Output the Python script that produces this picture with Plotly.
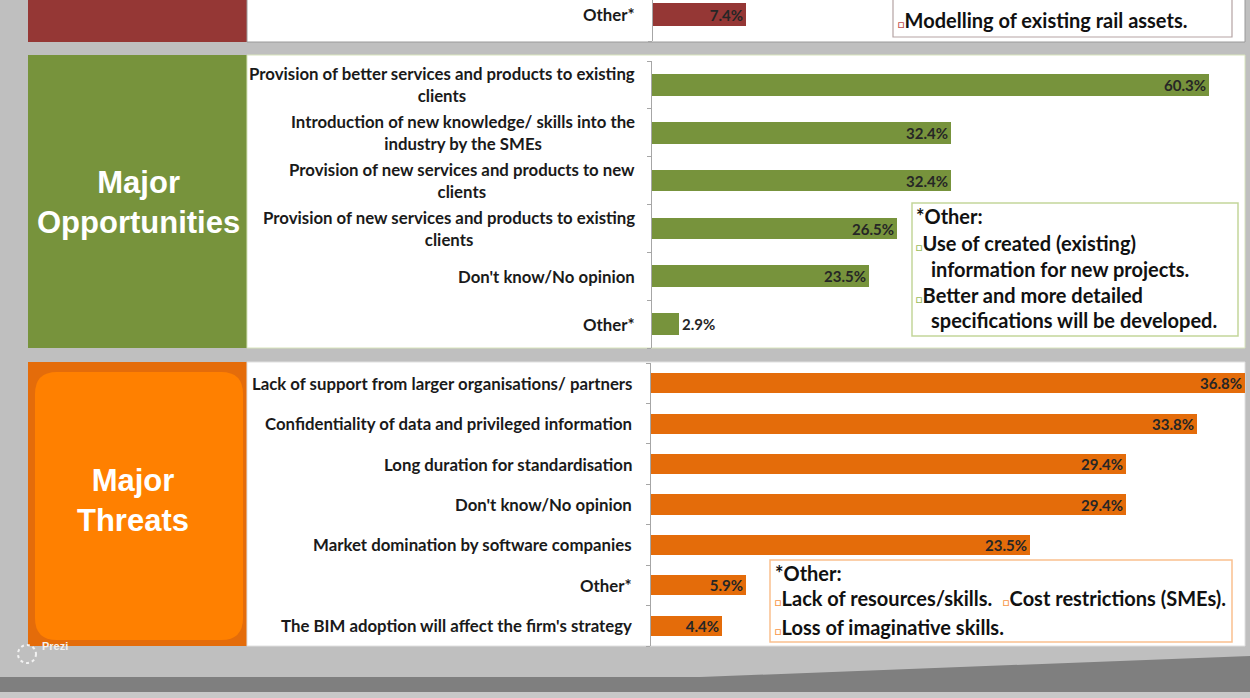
import plotly.graph_objects as go

W, H = 1250, 698

# ---- data -------------------------------------------------------------------
prev_cats = ["Other*"]
prev_vals = [7.4]

opp_cats = [
    "Provision of better services and products to existing<br>clients",
    "Introduction of new knowledge/ skills into the<br>industry by the SMEs",
    "Provision of new services and products to new<br>clients",
    "Provision of new services and products to existing<br>clients",
    "Don't know/No opinion",
    "Other*",
]
opp_vals = [60.3, 32.4, 32.4, 26.5, 23.5, 2.9]

thr_cats = [
    "Lack of support from larger organisations/ partners",
    "Confidentiality of data and privileged information",
    "Long duration for standardisation",
    "Don't know/No opinion",
    "Market domination by software companies",
    "Other*",
    "The BIM adoption will affect the firm's strategy",
]
thr_vals = [36.8, 33.8, 29.4, 29.4, 23.5, 5.9, 4.4]

opp_notes = ["*Other:", "Use of created (existing)", "information for new projects.",
             "Better and more detailed", "specifications will be developed."]
thr_notes = ["*Other:", "Lack of resources/skills.", "Cost restrictions (SMEs).",
             "Loss of imaginative skills."]
prev_note = "Modelling of existing rail assets."

# ---- colours ----------------------------------------------------------------
BG = "#bfbfbf"
RED, GREEN, ORANGE, ORANGE_IN = "#953735", "#77933c", "#e46c0a", "#ff8000"
LBL = "#1a1a1a"
LABEL_FONT = dict(family="Lato", size=16.8, color=LBL, weight="bold")
VAL_FONT = dict(family="Lato", size=15, color="#262626", weight="bold")
NOTE_FONT = dict(family="Lato", size=20, color="#111111", weight="bold")


def px(x):
    return x / W


def py(y):
    return 1 - y / H


def rect(x0, y0, x1, y1, fill, line=None, layer="below", lw=1):
    return dict(type="rect", xref="paper", yref="paper",
                x0=px(x0), x1=px(x1), y0=py(y1), y1=py(y0),
                fillcolor=fill, layer=layer,
                line=dict(color=line or fill, width=lw if line else 0))


def bullet(color):
    return f'<span style="font-size:11px;color:{color}">□</span>'


fig = go.Figure()

for cats, vals, ax, col, w in [
    (prev_cats, prev_vals, "", RED, 0.42),
    (opp_cats, opp_vals, "2", GREEN, 0.45),
    (thr_cats, thr_vals, "3", ORANGE, 0.5),
]:
    # tiny bars get their label just past the bar end
    pos = ["outside" if v < 4 else "inside" for v in vals]
    fig.add_trace(go.Bar(
        x=vals, y=list(range(len(cats))), orientation="h",
        xaxis="x" + ax, yaxis="y" + ax, width=w,
        marker=dict(color=col, line=dict(width=0)),
        texttemplate="%{x:.1f}%", textposition=pos,
        insidetextanchor="end", constraintext="none", cliponaxis=False,
        textfont=VAL_FONT, insidetextfont=VAL_FONT, outsidetextfont=VAL_FONT,
        hoverinfo="skip", showlegend=False,
    ))

yax = dict(showline=True, linecolor="#a6a6a6", linewidth=1, ticks="outside",
           ticklen=4, tickcolor="#a6a6a6", showticklabels=False,
           showgrid=False, zeroline=False, fixedrange=True, tickmode="linear",
           tick0=-0.5, dtick=1)
xax = dict(visible=False, fixedrange=True)

fig.update_layout(
    width=W, height=H, margin=dict(l=0, r=0, t=0, b=0),
    paper_bgcolor=BG, plot_bgcolor="rgba(0,0,0,0)", bargap=0,
    xaxis=dict(xax, domain=[px(653), px(1245)], range=[0, 47], anchor="y"),
    yaxis=dict(yax, domain=[py(41), 1], range=[-0.5, 0.27], anchor="x"),
    xaxis2=dict(xax, domain=[px(652), px(1245)], range=[0, 64.2], anchor="y2"),
    yaxis2=dict(yax, domain=[py(348), py(61)], range=[len(opp_cats) - 0.5, -0.5], anchor="x2"),
    xaxis3=dict(xax, domain=[px(651), px(1245)], range=[0, 36.8], anchor="y3"),
    yaxis3=dict(yax, domain=[py(646), py(363)], range=[len(thr_cats) - 0.5, -0.5], anchor="x3"),
)

shapes = [
    # top (previous) panel
    rect(28, -2, 247, 42, RED),
    rect(247, -2, 1245, 42, "white", "#9a9a9a"),
    # opportunities panel
    rect(28, 55, 247, 348, GREEN),
    rect(247, 55, 1245, 348, "white", "#d8e4bc"),
    # threats panel
    rect(28, 362, 247, 646, ORANGE),
    rect(247, 362, 1245, 646, "white", "#e0e0e0"),
    # bottom bands
    dict(type="path", xref="paper", yref="paper", layer="below",
         path=f"M 0,{py(677)} L {px(700)},{py(677)} L 1,{py(656)} L 1,{py(692)} L 0,{py(692)} Z",
         fillcolor="#7f7f7f", line=dict(width=0)),
    rect(0, 692, 1250, 698, "#c8c8c8"),
    # notes boxes
    rect(893, -4, 1232, 37, "white", "#b5a3a3", layer="above", lw=1.2),
    rect(912, 203, 1238, 336, "white", "#c3d69b", layer="above", lw=1.5),
    rect(770, 560, 1232, 642, "white", "#fac08f", layer="above", lw=1.5),
    # Prezi logo ring
    dict(type="circle", xref="paper", yref="paper", layer="above",
         x0=px(18), x1=px(36), y0=py(663), y1=py(645),
         line=dict(color="#f2f2f2", width=2, dash="dot")),
]
# rounded inner rectangle of the threats panel
x0, y0, x1, y1, r = 35, 372, 243, 640, 22
shapes.append(dict(
    type="path", xref="paper", yref="paper", layer="below",
    fillcolor=ORANGE_IN, line=dict(width=0),
    path=(f"M {px(x0 + r)},{py(y0)} L {px(x1 - r)},{py(y0)} "
          f"Q {px(x1)},{py(y0)} {px(x1)},{py(y0 + r)} L {px(x1)},{py(y1 - r)} "
          f"Q {px(x1)},{py(y1)} {px(x1 - r)},{py(y1)} L {px(x0 + r)},{py(y1)} "
          f"Q {px(x0)},{py(y1)} {px(x0)},{py(y1 - r)} L {px(x0)},{py(y0 + r)} "
          f"Q {px(x0)},{py(y0)} {px(x0 + r)},{py(y0)} Z"),
))
fig.update_layout(shapes=shapes)

ann = []
# category labels
for cats, yref, xr in [(prev_cats, "y", 637), (opp_cats, "y2", 637), (thr_cats, "y3", 634)]:
    for i, c in enumerate(cats):
        ann.append(dict(text=c, x=px(xr), xref="paper", y=i, yref=yref,
                        xanchor="right", yanchor="middle", align="center",
                        showarrow=False, font=LABEL_FONT))

# side panel titles
side_font = dict(family="Liberation Sans", size=31, color="white", weight="bold")
ann.append(dict(text="Major<br>Opportunities", x=px(138), y=py(203), xref="paper", yref="paper",
                xanchor="center", yanchor="middle",
                showarrow=False, font=side_font, align="center"))
ann.append(dict(text="Major<br>Threats", x=px(133), y=py(500), xref="paper", yref="paper",
                xanchor="center", yanchor="middle",
                showarrow=False, font=side_font, align="center"))


def note(text, x, y):
    ann.append(dict(text=text, x=px(x), y=py(y), xref="paper", yref="paper",
                    xanchor="left", yanchor="middle", showarrow=False, font=NOTE_FONT))


note(bullet("#c0504d") + prev_note, 896, 20)

note(opp_notes[0], 914, 216)
note(bullet("#9bbb59") + opp_notes[1], 914, 243)
note(opp_notes[2], 929, 269)
note(bullet("#9bbb59") + opp_notes[3], 914, 295)
note(opp_notes[4], 929, 320)

note(thr_notes[0], 773, 573)
note(bullet("#f79646") + thr_notes[1], 773, 598)
note(bullet("#f79646") + thr_notes[2], 1001, 598)
note(bullet("#f79646") + thr_notes[3], 773, 627)

ann.append(dict(text="Prezi", x=px(40), y=py(654), xref="paper", yref="paper",
                xanchor="left", showarrow=False,
                font=dict(family="Liberation Sans Narrow, Liberation Sans", size=11,
                          color="#f2f2f2", weight="bold")))

fig.update_layout(annotations=ann)

fig.write_html("out.html", config={"displayModeBar": False},
               post_script="document.body.style.margin='0';")
